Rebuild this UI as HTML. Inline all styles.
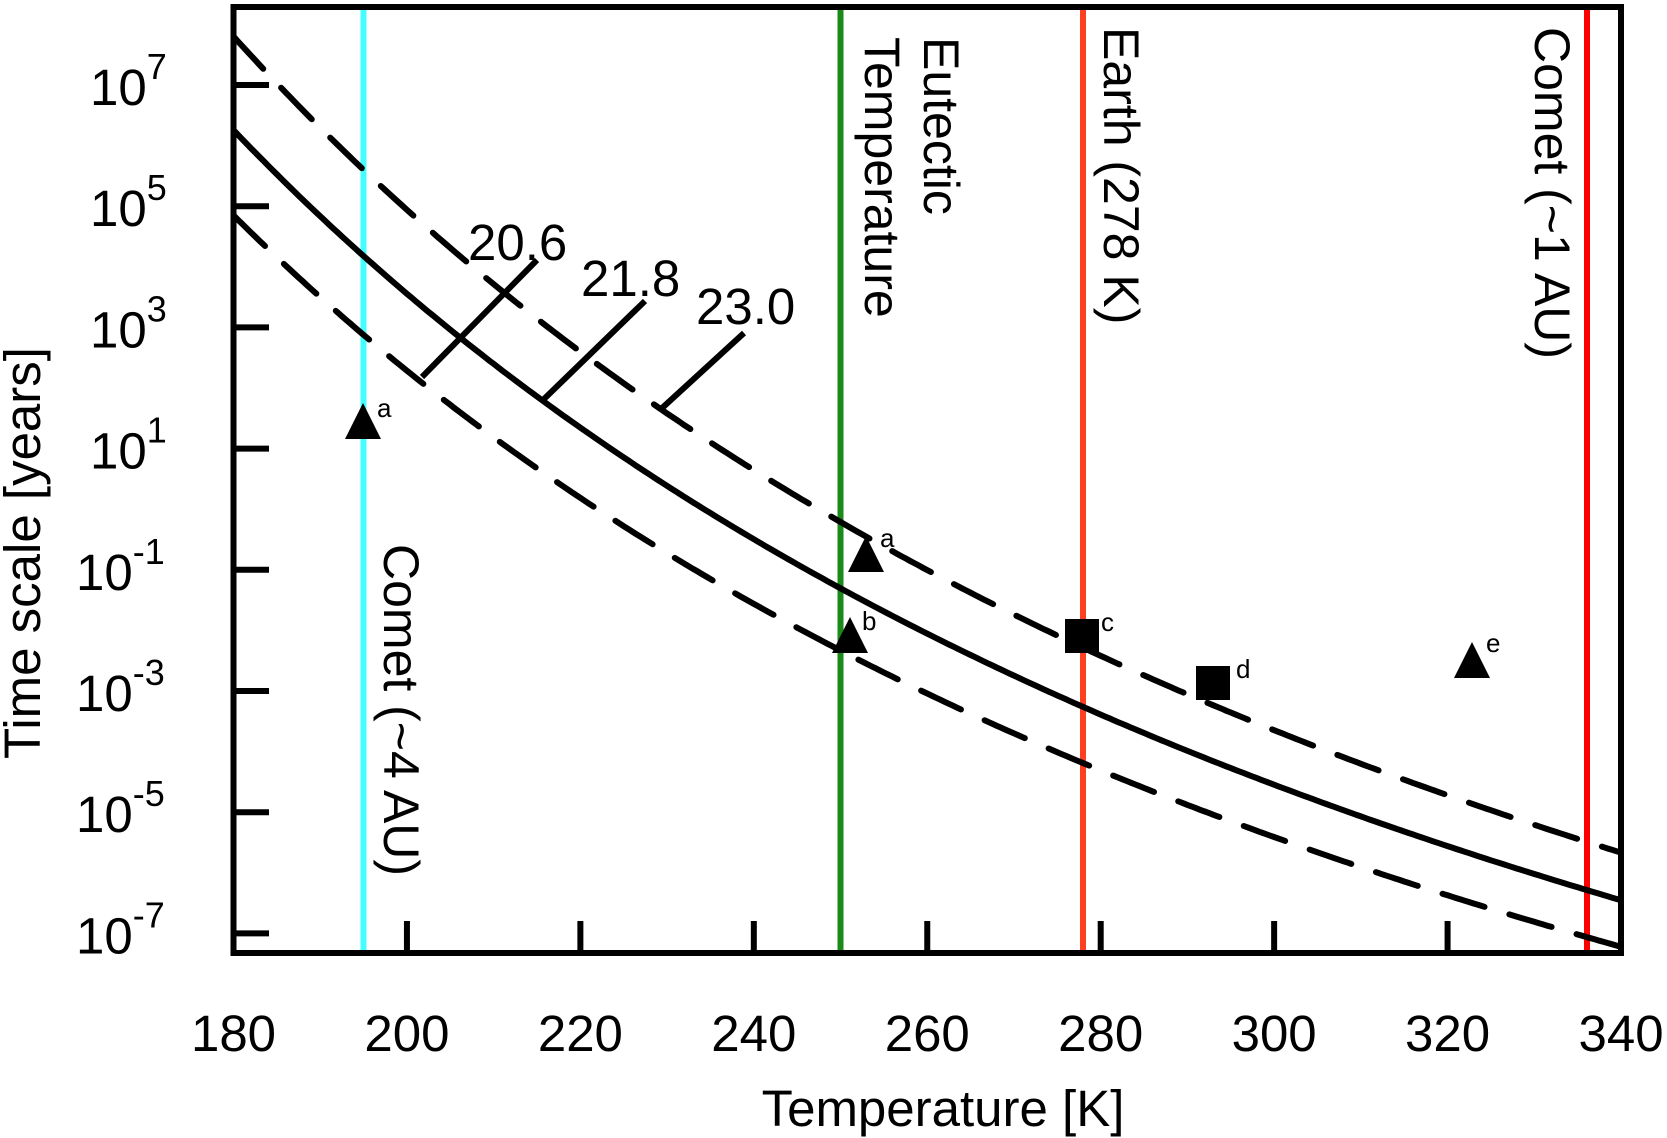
<!DOCTYPE html>
<html><head><meta charset="utf-8"><style>
html,body{margin:0;padding:0;background:#fff;}
svg{display:block;font-family:"Liberation Sans",Arial,sans-serif;}
</style></head><body>
<svg id="s" width="1667" height="1138" viewBox="0 0 1667 1138" xmlns="http://www.w3.org/2000/svg">
<defs><clipPath id="c"><rect x="233.5" y="7" width="1387.5" height="946"/></clipPath></defs>
<g id="plot" clip-path="url(#c)">
<line x1="363.5" y1="7" x2="363.5" y2="953" stroke="#4ff" stroke-width="6"/>
<line x1="840.5" y1="7" x2="840.5" y2="953" stroke="#1a8a1a" stroke-width="6"/>
<line x1="1083" y1="7" x2="1083" y2="953" stroke="#ff4020" stroke-width="6"/>
<line x1="1587" y1="7" x2="1587" y2="953" stroke="#f00" stroke-width="6"/>
</g>
<g stroke="#000" stroke-width="6" fill="none">
<line x1="422" y1="377" x2="537" y2="260"/>
<line x1="544" y1="399" x2="645" y2="301"/>
<line x1="661" y1="409" x2="744" y2="333"/>
</g>
<g font-size="51" fill="#000">
<text x="468" y="260">20.6</text>
<text x="581" y="296">21.8</text>
<text x="696" y="324">23.0</text>
</g>
<g font-size="50" fill="#000" dominant-baseline="central">
<text transform="translate(401,544) rotate(90)">Comet (~4 AU)</text>
<text transform="translate(941,37) rotate(90)">Eutectic</text>
<text transform="translate(882,37) rotate(90)">Temperature</text>
<text transform="translate(1121,27) rotate(90)">Earth (278 K)</text>
<text transform="translate(1552,27) rotate(90)">Comet (~1 AU)</text>
</g>
<g fill="#000">
<polygon points="363,403 345,439 381,439"/>
<polygon points="866,536 848,572 884,572"/>
<polygon points="850,617 832,653 868,653"/>
<rect x="1065" y="619" width="34" height="34"/>
<rect x="1196" y="666" width="34" height="34"/>
<polygon points="1472,642 1454,678 1490,678"/>
</g>
<g font-size="26" fill="#000">
<text x="377" y="417">a</text>
<text x="880" y="547">a</text>
<text x="862" y="630">b</text>
<text x="1101" y="631">c</text>
<text x="1236" y="678">d</text>
<text x="1486" y="652">e</text>
</g>
<rect x="233.5" y="7" width="1387.5" height="946" fill="none" stroke="#000" stroke-width="6"/>
<g id="ticks" stroke="#000" stroke-width="6"></g>
<g id="lab" fill="#000" font-size="51"></g>
<text x="943" y="1126" font-size="51" text-anchor="middle">Temperature [K]</text>
<text transform="translate(40,553) rotate(-90)" font-size="51" text-anchor="middle">Time scale [years]</text>
</svg>
<script>
const NS="http://www.w3.org/2000/svg";
const X=T=>233.5+(T-180)*8.672, Y=L=>85+(7-L)*60.6;
function el(p,t,a){const e=document.createElementNS(NS,t);for(const k in a)e.setAttribute(k,a[k]);p.appendChild(e);return e;}
const plot=document.getElementById('plot');
const curves=[[-20.75,4861,null],[-20.82,5152,"44 26"],[-20.8,4617,"44 26"]];
for(const [a,b,d] of curves){let p="";for(let T=180;T<=340;T+=0.5){p+=(T==180?"M":"L")+X(T).toFixed(1)+","+Y(a+b/T).toFixed(1);}
const at={d:p,stroke:"#000","stroke-width":6,fill:"none","stroke-linecap":"round"};if(d)at["stroke-dasharray"]=d;el(plot,"path",at);}
const tk=document.getElementById('ticks'),lab=document.getElementById('lab');
for(let T=200;T<=320;T+=20)el(tk,"line",{x1:X(T),y1:953,x2:X(T),y2:921});
for(let T=180;T<=340;T+=20){const t=el(lab,"text",{x:X(T),y:1051,"text-anchor":"middle"});t.textContent=T;}
for(let L=7;L>=-7;L-=2){const y=Y(L);el(tk,"line",{x1:233.5,y1:y,x2:269,y2:y});
const t=el(lab,"text",{x:L<0?76:90,y:y+20});t.appendChild(document.createTextNode("10"));const s=el(t,"tspan",{dy:-26,"font-size":36});s.textContent=L;}
</script>
</body></html>
